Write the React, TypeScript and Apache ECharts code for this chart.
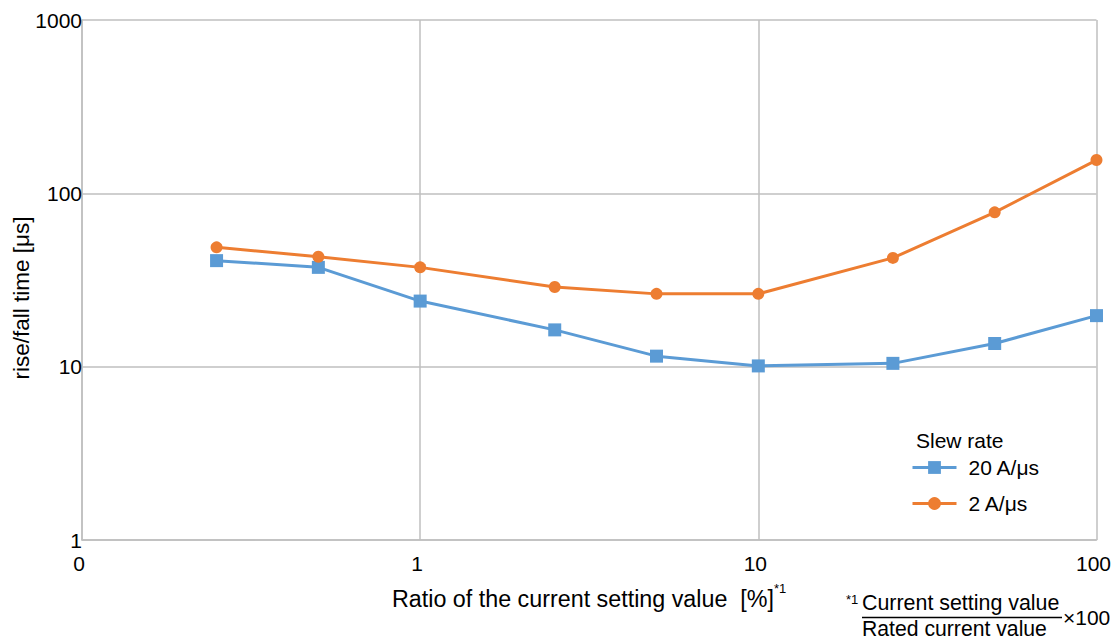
import React, { useEffect, useRef } from "react";
import * as echarts from "echarts";

const ratio = [0.25, 0.5, 1, 2.5, 5, 10, 25, 50, 100];
const slew20 = [40.9, 37.4, 23.9, 16.3, 11.5, 10.1, 10.45, 13.6, 19.7];
const slew2 = [48.8, 43.1, 37.4, 28.8, 26.3, 26.3, 42.4, 77.7, 155.6];
const seriesNames = ["20 A/μs", "2 A/μs"];
const colors = ["#5B9BD5", "#ED7D31"];

const FONT = "Liberation Sans, Arial, sans-serif";

export default function App() {
  const ref = useRef<HTMLDivElement>(null);
  useEffect(() => {
    if (!ref.current) return;
    const chart = echarts.init(ref.current, undefined, { renderer: "svg" });
    const gridColor = "#BFBFBF";
    const txt = (text: string, x: number, y: number, fontSize: number, extra: any = {}, rotation = 0) => ({
      type: "text",
      x,
      y,
      rotation,
      style: {
        text,
        fontSize,
        fill: "#000",
        fontFamily: FONT,
        verticalAlign: "middle",
        align: "left",
        ...extra,
      },
    });
    chart.setOption({
      animation: false,
      textStyle: { fontFamily: FONT },
      grid: { left: 82, right: 14, top: 20, bottom: 101, containLabel: false },
      xAxis: {
        type: "log",
        logBase: 10,
        min: 0.1,
        max: 100,
        axisLine: { show: true, lineStyle: { color: gridColor, width: 1.5 } },
        axisTick: { show: false },
        splitLine: { show: true, lineStyle: { color: gridColor, width: 1.5 } },
        minorSplitLine: { show: false },
        axisLabel: {
          color: "#000",
          fontSize: 21,
          margin: 13,
          padding: [0, 6, 0, 0],
          formatter: (v: number) => (v <= 0.1001 ? "0" : String(Math.round(v))),
        },
      },
      yAxis: {
        type: "log",
        logBase: 10,
        min: 1,
        max: 1000,
        axisLine: { show: true, lineStyle: { color: gridColor, width: 1.5 } },
        axisTick: { show: false },
        splitLine: { show: true, lineStyle: { color: gridColor, width: 1.5 } },
        axisLabel: { color: "#000", fontSize: 21, margin: 0, formatter: (v: number) => String(Math.round(v)) },
      },
      legend: {
        data: seriesNames,
        orient: "vertical",
        left: 906,
        top: 452,
        itemWidth: 44,
        itemHeight: 16,
        itemGap: 15,
        lineStyle: { width: 3 },
        textStyle: { color: "#000", fontSize: 21, fontFamily: FONT, padding: [0, 0, 0, 7] },
      },
      graphic: [
        txt("rise/fall time [μs]", 21, 298, 22.5, { align: "center" }, Math.PI / 2),
        txt("Ratio of the current setting value  [%]", 392, 599, 23.3),
        txt("*1", 774, 588, 13),
        txt("Slew rate", 916, 440, 21),
        txt("*1", 846, 599, 13),
        txt("Current setting value", 862, 603, 21.4),
        {
          type: "line",
          shape: { x1: 862, y1: 617.5, x2: 1062, y2: 617.5 },
          style: { stroke: "#000", lineWidth: 1.3 },
        },
        txt("Rated current value", 862, 628.5, 21.2),
        txt("×100", 1063, 617, 21),
      ],
      series: [
        {
          name: seriesNames[0],
          type: "line",
          data: ratio.map((x, i) => [x, slew20[i]]),
          color: colors[0],
          symbol: "rect",
          symbolSize: 13,
          lineStyle: { width: 3, color: colors[0] },
          itemStyle: { color: colors[0] },
        },
        {
          name: seriesNames[1],
          type: "line",
          data: ratio.map((x, i) => [x, slew2[i]]),
          color: colors[1],
          symbol: "circle",
          symbolSize: 12,
          lineStyle: { width: 3, color: colors[1] },
          itemStyle: { color: colors[1] },
        },
      ],
    });
    return () => chart.dispose();
  }, []);
  return <div ref={ref} style={{ width: 1114, height: 641, position: "absolute", left: 0, top: 0 }} />;
}
